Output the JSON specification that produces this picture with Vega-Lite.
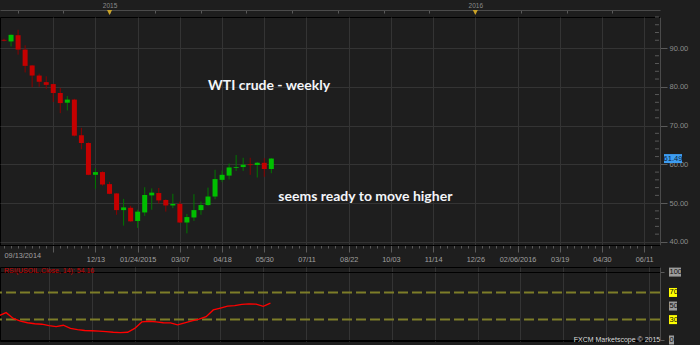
{
  "$schema": "https://vega.github.io/schema/vega-lite/v6.json",
  "background": "#1e1e1e",
  "padding": {"left": 0, "top": 17, "right": 700, "bottom": 328},
  "autosize": {"type": "none"},
  "bounds": "flush",
  "spacing": 22,
  "config": {
    "view": {"fill": "#1e1e1e", "stroke": "#000000", "strokeWidth": 1},
    "axis": {"labelFont": "Liberation Sans", "titleFont": "Liberation Sans", "labelOverlap": false},
    "text": {"font": "Liberation Sans"}
  },
  "datasets": {
    "candles": [
      {"date":"2014-09-13","open":92.1,"high":92.4,"low":91.7,"close":91.9,"rsi":35.9},
      {"date":"2014-09-20","open":91.7,"high":93.5,"low":90.4,"close":93.4,"rsi":40.3},
      {"date":"2014-09-27","open":93.3,"high":94.7,"low":88.3,"close":89.6,"rsi":31.8},
      {"date":"2014-10-04","open":89.6,"high":90.7,"low":83.7,"close":85.4,"rsi":27.8},
      {"date":"2014-10-11","open":85.5,"high":85.6,"low":79.9,"close":82.9,"rsi":25.4},
      {"date":"2014-10-18","open":82.9,"high":83.4,"low":80.0,"close":81.3,"rsi":23.9},
      {"date":"2014-10-25","open":81.2,"high":82.7,"low":79.4,"close":80.5,"rsi":23.2},
      {"date":"2014-11-01","open":80.7,"high":80.8,"low":76.1,"close":78.4,"rsi":21.1},
      {"date":"2014-11-08","open":78.4,"high":79.7,"low":73.2,"close":75.8,"rsi":19.8},
      {"date":"2014-11-15","open":75.9,"high":77.6,"low":73.9,"close":76.7,"rsi":21.7},
      {"date":"2014-11-22","open":76.7,"high":76.9,"low":67.2,"close":67.4,"rsi":17.0},
      {"date":"2014-11-29","open":67.5,"high":69.4,"low":63.9,"close":65.5,"rsi":15.2},
      {"date":"2014-12-06","open":65.5,"high":65.7,"low":57.2,"close":57.3,"rsi":14.0},
      {"date":"2014-12-13","open":57.3,"high":59.0,"low":53.7,"close":58.0,"rsi":13.6},
      {"date":"2014-12-20","open":58.0,"high":58.2,"low":54.5,"close":54.8,"rsi":12.9},
      {"date":"2014-12-27","open":54.9,"high":55.5,"low":52.3,"close":52.4,"rsi":12.3},
      {"date":"2015-01-03","open":52.5,"high":52.6,"low":47.0,"close":48.2,"rsi":11.4},
      {"date":"2015-01-10","open":48.2,"high":51.1,"low":44.2,"close":48.9,"rsi":10.8},
      {"date":"2015-01-17","open":48.8,"high":49.3,"low":45.2,"close":45.3,"rsi":11.4},
      {"date":"2015-01-24","open":45.4,"high":48.3,"low":43.6,"close":47.8,"rsi":17.0},
      {"date":"2015-01-31","open":47.6,"high":54.1,"low":46.7,"close":52.1,"rsi":26.6},
      {"date":"2015-02-07","open":52.0,"high":53.8,"low":48.3,"close":52.7,"rsi":27.6},
      {"date":"2015-02-14","open":52.6,"high":53.9,"low":49.9,"close":50.7,"rsi":26.6},
      {"date":"2015-02-21","open":50.8,"high":51.0,"low":47.8,"close":49.4,"rsi":25.4},
      {"date":"2015-02-28","open":49.4,"high":52.4,"low":48.7,"close":49.8,"rsi":25.1},
      {"date":"2015-03-07","open":49.8,"high":50.4,"low":44.9,"close":45.0,"rsi":22.2},
      {"date":"2015-03-14","open":45.0,"high":47.2,"low":42.2,"close":46.4,"rsi":25.1},
      {"date":"2015-03-21","open":46.3,"high":52.3,"low":45.4,"close":48.2,"rsi":28.1},
      {"date":"2015-03-28","open":48.2,"high":50.4,"low":47.0,"close":49.5,"rsi":30.6},
      {"date":"2015-04-04","open":49.5,"high":54.0,"low":49.3,"close":51.7,"rsi":34.3},
      {"date":"2015-04-11","open":51.7,"high":58.6,"low":51.0,"close":56.2,"rsi":44.3},
      {"date":"2015-04-18","open":56.0,"high":58.4,"low":55.4,"close":57.3,"rsi":47.0},
      {"date":"2015-04-25","open":57.1,"high":60.2,"low":56.1,"close":59.2,"rsi":49.9},
      {"date":"2015-05-02","open":59.1,"high":62.4,"low":58.3,"close":59.3,"rsi":50.7},
      {"date":"2015-05-09","open":59.3,"high":61.7,"low":58.3,"close":59.9,"rsi":52.6},
      {"date":"2015-05-16","open":60.0,"high":61.7,"low":57.3,"close":59.8,"rsi":53.2},
      {"date":"2015-05-23","open":59.8,"high":60.6,"low":56.6,"close":60.4,"rsi":52.7},
      {"date":"2015-05-30","open":60.4,"high":61.6,"low":56.8,"close":58.8,"rsi":49.5},
      {"date":"2015-06-06","open":58.8,"high":61.6,"low":57.7,"close":61.49,"rsi":54.16}
    ],
    "notes": [
      {"label": "WTI crude - weekly", "date": "2015-04-04", "price": 80.2},
      {"label": "seems ready to move higher", "date": "2015-06-13", "price": 51.6}
    ],
    "years": [{"date": "2014-12-27"}, {"date": "2015-12-26"}],
    "last": [{"price": 61.49}],
    "minorTicks": [{"v":42},{"v":44},{"v":46},{"v":48},{"v":52},{"v":54},{"v":56},{"v":58},{"v":62},{"v":64},{"v":66},{"v":68},{"v":72},{"v":74},{"v":76},{"v":78},{"v":82},{"v":84},{"v":86},{"v":88},{"v":92},{"v":94},{"v":96},{"v":98}],
    "rsiLevels": [{"level": 100}, {"level": 70}, {"level": 50}, {"level": 30}, {"level": 0}],
    "rsiTitle": [{"label": "RSI(USOIL.Close, 14): 54.16", "date": "2014-09-13", "rsi": 102}],
    "credit": [{"label": "FXCM Marketscope © 2015", "date": "2016-06-22", "rsi": 0}]
  },
  "vconcat": [
    {
      "width": 660,
      "height": 228,
      "resolve": {"axis": {"x": "independent"}},
      "layer": [
        {
          "data": {"name": "candles"},
          "mark": {"type": "rule", "clip": true, "strokeWidth": 1},
          "encoding": {
            "x": {
              "field": "date", "type": "temporal",
              "scale": {"type": "utc", "domain": [1410651072000, 1466536320000]},
              "axis": {
                "orient": "bottom", "title": null,
                "values": [1410566400000,1411171200000,1411776000000,1412380800000,1412985600000,1413590400000,1414195200000,1414800000000,1415404800000,1416009600000,1416614400000,1417219200000,1417824000000,1418428800000,1419033600000,1419638400000,1420243200000,1420848000000,1421452800000,1422057600000,1422662400000,1423267200000,1423872000000,1424476800000,1425081600000,1425686400000,1426291200000,1426896000000,1427500800000,1428105600000,1428710400000,1429315200000,1429920000000,1430524800000,1431129600000,1431734400000,1432339200000,1432944000000,1433548800000,1434153600000,1434758400000,1435363200000,1435968000000,1436572800000,1437177600000,1437782400000,1438387200000,1438992000000,1439596800000,1440201600000,1440806400000,1441411200000,1442016000000,1442620800000,1443225600000,1443830400000,1444435200000,1445040000000,1445644800000,1446249600000,1446854400000,1447459200000,1448064000000,1448668800000,1449273600000,1449878400000,1450483200000,1451088000000,1451692800000,1452297600000,1452902400000,1453507200000,1454112000000,1454716800000,1455321600000,1455926400000,1456531200000,1457136000000,1457740800000,1458345600000,1458950400000,1459555200000,1460160000000,1460764800000,1461369600000,1461974400000,1462579200000,1463184000000,1463788800000,1464393600000,1464998400000,1465603200000,1466208000000],
                "labelExpr": "round((datum.value-1410566400000)/604800000) == 0 ? utcFormat(datum.value,'%m/%d/%Y') : (round((datum.value-1410566400000)/604800000) % 6 != 1 || round((datum.value-1410566400000)/604800000) <= 7) ? '' : (utcmonth(datum.value) == 0 || (utcmonth(datum.value) == 1 && utcdate(datum.value) <= 11)) ? utcFormat(datum.value,'%m/%d/%Y') : utcFormat(datum.value,'%m/%d')",
                "labelAlign": {"condition": {"test": "round((datum.value-1410566400000)/604800000) == 0", "value": "left"}, "value": "center"},
                "tickSize": {"condition": {"test": "round((datum.value-1410566400000)/604800000) % 6 == 1 && round((datum.value-1410566400000)/604800000) > 1", "value": 7}, "value": 3},
                "tickColor": "#5a5a5a",
                "domainColor": "#000000",
                "labelColor": "#a0a0a0",
                "labelFontSize": 7.3,
                "labelPadding": 3,
                "labelOverlap": false,
                "labelFlush": false,
                "grid": true,
                "gridColor": "#343434",
                "gridOpacity": {"condition": {"test": "round((datum.value-1410566400000)/604800000) % 6 == 1 && round((datum.value-1410566400000)/604800000) > 1", "value": 1}, "value": 0}
              }
            },
            "y": {
              "field": "low", "type": "quantitative", "title": null,
              "scale": {"domain": [39.2, 98], "nice": false, "zero": false},
              "axis": {
                "orient": "right", "title": null,
                "values": [40, 50, 60, 70, 80, 90],
                "format": ".2f",
                "tickSize": 7,
                "tickColor": "#5a5a5a",
                "domainColor": "#4a4a4a",
                "labelColor": "#8c8c8c",
                "labelFontSize": 7.5,
                "labelPadding": 2,
                "labelOverlap": false,
                "grid": true,
                "gridColor": "#343434"
              }
            },
            "y2": {"field": "high"},
            "color": {"condition": {"test": "datum.close < datum.open", "value": "#8a0000"}, "value": "#007800"}
          }
        },
        {
          "data": {"name": "candles"},
          "mark": {"type": "bar", "size": 5, "clip": true},
          "encoding": {
            "x": {"field": "date", "type": "temporal", "axis": null},
            "y": {"field": "open", "type": "quantitative", "title": null},
            "y2": {"field": "close"},
            "color": {"condition": {"test": "datum.close < datum.open", "value": "#c40000"}, "value": "#00bf00"}
          }
        },
        {
          "data": {"name": "notes"},
          "mark": {"type": "text", "font": "Lato", "fontWeight": "bold", "fontSize": 14, "color": "#f3f5f9", "align": "left", "baseline": "middle"},
          "encoding": {
            "x": {"field": "date", "type": "temporal", "axis": null},
            "y": {"field": "price", "type": "quantitative", "title": null},
            "text": {"field": "label"}
          }
        },
        {
          "data": {"name": "years"},
          "mark": {"type": "point", "shape": "M-2.5,-7L2.5,-7L0,-2Z", "size": 4, "filled": true, "color": "#c9a227", "opacity": 1, "strokeWidth": 0},
          "encoding": {
            "x": {
              "field": "date", "type": "temporal",
              "axis": {
                "orient": "top", "title": null, "offset": 7,
                "values": [1411776000000,1415664000000,1419638400000,1423526400000,1427500800000,1431388800000,1435363200000,1439251200000,1443225600000,1447113600000,1451088000000,1454976000000,1458950400000,1462838400000],
                "labelExpr": "(utcmonth(datum.value) == 11 && utcdate(datum.value) >= 25) ? '' + (utcyear(datum.value) + 1) : ''",
                "tickSize": -3,
                "tickColor": "#5a5a5a",
                "domainColor": "#4a4a4a",
                "labelColor": "#8a8a8a",
                "labelFontSize": 6.5,
                "labelPadding": 5,
                "labelOverlap": false,
                "labelFlush": false,
                "grid": false
              }
            },
            "y": {"datum": 98, "type": "quantitative", "title": null}
          }
        },
        {
          "data": {"name": "minorTicks"},
          "mark": {"type": "rule", "color": "#5a5a5a", "strokeWidth": 1},
          "encoding": {
            "x": {"datum": 1466536320000, "type": "temporal", "axis": null},
            "x2": {"datum": 1466875008000},
            "y": {"field": "v", "type": "quantitative", "title": null}
          }
        },
        {
          "data": {"name": "last"},
          "mark": {"type": "point", "shape": "M9,-4.5H27V4.5H9Z", "size": 4, "filled": true, "color": "#3d9df2", "opacity": 1, "strokeWidth": 0},
          "encoding": {
            "x": {"datum": 1466536320000, "type": "temporal", "axis": null},
            "y": {"field": "price", "type": "quantitative", "title": null}
          }
        },
        {
          "data": {"name": "last"},
          "mark": {"type": "text", "align": "center", "baseline": "middle", "dx": 18, "fontSize": 7.5, "color": "#0b1f3a"},
          "encoding": {
            "x": {"datum": 1466536320000, "type": "temporal", "axis": null},
            "y": {"field": "price", "type": "quantitative", "title": null},
            "text": {"field": "price", "type": "quantitative", "format": ".2f"}
          }
        }
      ]
    },
    {
      "width": 660,
      "height": 74,
      "layer": [
        {
          "data": {"name": "rsiLevels"},
          "transform": [{"filter": "datum.level == 70 || datum.level == 30"}],
          "mark": {"type": "rule", "strokeDash": [10, 4], "strokeWidth": 2, "color": "#7d7d28"},
          "encoding": {
            "y": {
              "field": "level", "type": "quantitative", "title": null,
              "scale": {"domain": [-1.5, 107.5], "nice": false, "zero": false},
              "axis": {
                "orient": "right", "title": null,
                "values": [0,10,20,30,40,50,60,70,80,90,100],
                "labels": false,
                "tickSize": 4,
                "tickColor": "#5a5a5a",
                "domainColor": "#4a4a4a",
                "grid": true,
                "gridColor": "#000000",
                "gridOpacity": {"condition": {"test": "datum.value % 50 == 0", "value": 1}, "value": 0}
              }
            }
          }
        },
        {
          "data": {"name": "candles"},
          "mark": {"type": "line", "color": "#ff0000", "strokeWidth": 1.3, "clip": true},
          "encoding": {
            "x": {
              "field": "date", "type": "temporal",
              "scale": {"type": "utc", "domain": [1410651072000, 1466536320000]},
              "axis": {
                "title": null, "labels": false, "ticks": false, "domain": false,
                "values": [1414800000000,1418428800000,1422057600000,1425686400000,1429315200000,1432944000000,1436572800000,1440201600000,1443830400000,1447459200000,1451088000000,1454716800000,1458345600000,1461974400000,1465603200000],
                "grid": true, "gridColor": "#343434"
              }
            },
            "y": {"field": "rsi", "type": "quantitative", "title": null}
          }
        },
        {
          "data": {"name": "rsiLevels"},
          "mark": {"type": "point", "size": 4, "filled": true, "opacity": 1, "strokeWidth": 0},
          "encoding": {
            "x": {"datum": 1466536320000, "type": "temporal"},
            "y": {"field": "level", "type": "quantitative", "title": null},
            "shape": {"condition": [{"test": "datum.level == 100", "value": "M9,-4.5H21V4.5H9Z"}, {"test": "datum.level == 0", "value": "M9,-4.5H14V4.5H9Z"}], "value": "M9,-4.5H17V4.5H9Z"},
            "color": {"condition": {"test": "datum.level == 70 || datum.level == 30", "value": "#ffff00"}, "value": "#9c9c9c"}
          }
        },
        {
          "data": {"name": "rsiLevels"},
          "mark": {"type": "text", "align": "left", "baseline": "middle", "dx": 9.5, "fontSize": 7.5, "color": "#111111"},
          "encoding": {
            "x": {"datum": 1466536320000, "type": "temporal"},
            "y": {"field": "level", "type": "quantitative", "title": null},
            "text": {"field": "level", "type": "quantitative"}
          }
        },
        {
          "data": {"name": "rsiTitle"},
          "mark": {"type": "text", "align": "left", "baseline": "middle", "dx": 5, "fontSize": 7, "color": "#c80000"},
          "encoding": {
            "x": {"field": "date", "type": "temporal"},
            "y": {"field": "rsi", "type": "quantitative", "title": null},
            "text": {"field": "label"}
          }
        },
        {
          "data": {"name": "credit"},
          "mark": {"type": "text", "align": "right", "baseline": "middle", "dx": 0, "fontSize": 7, "color": "#dddddd"},
          "encoding": {
            "x": {"field": "date", "type": "temporal"},
            "y": {"field": "rsi", "type": "quantitative", "title": null},
            "text": {"field": "label"}
          }
        }
      ]
    }
  ]
}
